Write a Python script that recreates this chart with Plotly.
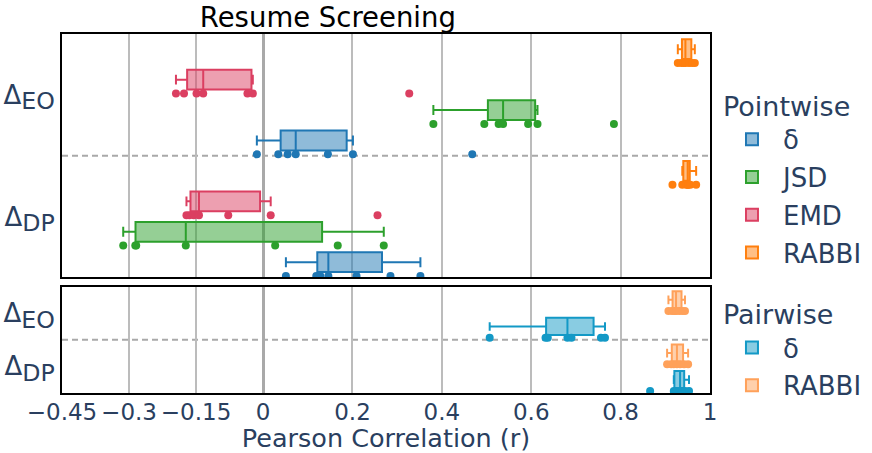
import plotly.graph_objects as go

# ---------------- data ----------------
categories = ["EO", "DP"]
category_labels = [
    "Δ<sub><span style='font-size:130%'>EO</span></sub>",
    "Δ<sub><span style='font-size:130%'>DP</span></sub>",
]
x_tick_values = [-0.45, -0.3, -0.15, 0, 0.2, 0.4, 0.6, 0.8, 1]

# Pointwise metrics (7 values per fairness measure)
pw_delta_eo = [-0.014, 0.034, 0.055, 0.073, 0.145, 0.201, 0.468]
pw_delta_dp = [0.051, 0.119, 0.128, 0.146, 0.209, 0.285, 0.352]
pw_jsd_eo = [0.381, 0.495, 0.527, 0.537, 0.593, 0.614, 0.785]
pw_jsd_dp = [-0.313, -0.286, -0.284, -0.173, 0.027, 0.167, 0.270]
pw_emd_eo = [-0.195, -0.177, -0.149, -0.134, -0.035, -0.023, 0.327]
pw_emd_dp = [-0.1715, -0.165, -0.155, -0.1435, -0.078, 0.017, 0.256]
pw_rabbi_eo = [0.928, 0.936, 0.941, 0.945, 0.953, 0.960, 0.966]
pw_rabbi_dp = [0.916, 0.938, 0.947, 0.950, 0.951, 0.956, 0.969]

# Pairwise metrics
pr_delta_eo = [0.507, 0.632, 0.637, 0.681, 0.690, 0.756, 0.765]
pr_delta_dp = [0.866, 0.919, 0.924, 0.933, 0.937, 0.944, 0.953]
pr_rabbi_eo = [0.907, 0.915, 0.920, 0.924, 0.931, 0.938, 0.944]
pr_rabbi_dp = [0.904, 0.913, 0.919, 0.926, 0.933, 0.942, 0.951]

pointwise_names = ["δ", "JSD", "EMD", "RABBI"]
pointwise_eo = [pw_delta_eo, pw_jsd_eo, pw_emd_eo, pw_rabbi_eo]
pointwise_dp = [pw_delta_dp, pw_jsd_dp, pw_emd_dp, pw_rabbi_dp]
pointwise_colors = ["#1f77b4", "#2ca02c", "#db3f61", "#ff7f0e"]

pairwise_names = ["δ", "RABBI"]
pairwise_eo = [pr_delta_eo, pr_rabbi_eo]
pairwise_dp = [pr_delta_dp, pr_rabbi_dp]
pairwise_colors = ["#1399c6", "#ffa15a"]

FONT = "Verdana, DejaVu Sans, sans-serif"
TXT = "#2a3f5f"


def rgba(hex_color, a):
    h = hex_color.lstrip("#")
    r, g, b = int(h[0:2], 16), int(h[2:4], 16), int(h[4:6], 16)
    return f"rgba({r},{g},{b},{a})"


def make_box(name, eo, dp, color, xaxis, yaxis, legend, pointpos, align, offset):
    return go.Box(
        x=eo + dp,
        y=[categories[0]] * len(eo) + [categories[1]] * len(dp),
        name=name,
        orientation="h",
        boxpoints="all",
        jitter=0,
        pointpos=pointpos,
        marker=dict(color=color, size=8),
        line=dict(color=color, width=2),
        fillcolor=rgba(color, 0.5),
        xaxis=xaxis,
        yaxis=yaxis,
        legend=legend,
        legendgroup=align + offset,
        alignmentgroup=align,
        offsetgroup=offset,
    )


fig = go.Figure()
for i, (n, eo, dp, c) in enumerate(zip(pointwise_names, pointwise_eo, pointwise_dp, pointwise_colors)):
    fig.add_trace(make_box(n, eo, dp, c, "x2", "y", "legend", -1.4, "pw", str(i)))
for i, (n, eo, dp, c) in enumerate(zip(pairwise_names, pairwise_eo, pairwise_dp, pairwise_colors)):
    fig.add_trace(make_box(n, eo, dp, c, "x", "y2", "legend2", -1.3, "pr", str(i)))

grid = dict(
    range=[-0.45, 1],
    tickvals=x_tick_values,
    showgrid=True,
    gridcolor="#bcbcbc",
    gridwidth=2,
    zeroline=True,
    zerolinecolor="#a9a9a9",
    zerolinewidth=3,
    showline=True,
    mirror=True,
    linecolor="black",
    linewidth=2,
    ticks="",
)

yax = dict(
    type="category",
    categoryorder="array",
    categoryarray=["DP", "EO"],
    range=[-0.5, 1.5],
    tickvals=categories,
    ticktext=category_labels,
    tickfont=dict(size=26),
    showgrid=False,
    zeroline=False,
    showline=True,
    mirror=True,
    linecolor="black",
    linewidth=2,
    ticks="",
    automargin=False,
)

legend_common = dict(
    font=dict(size=26),
    xref="container",
    x=0.8268,
    xanchor="left",
    yanchor="top",
    bgcolor="rgba(0,0,0,0)",
    tracegroupgap=1,
    itemwidth=52,
)

fig.update_layout(
    width=872,
    height=453,
    margin=dict(l=62, r=162, t=34, b=60),
    paper_bgcolor="white",
    plot_bgcolor="white",
    font=dict(family=FONT, color=TXT, size=22),
    boxmode="group",
    boxgap=0,
    boxgroupgap=0.35,
    title=dict(
        text="Resume Screening",
        x=0.376,
        xanchor="center",
        y=0.962,
        yanchor="middle",
        font=dict(size=27.5, color="black", family=FONT),
    ),
    xaxis=dict(
        **grid,
        domain=[0, 1],
        anchor="y2",
        tickfont=dict(size=23),
        ticklabelstandoff=-3,
        automargin=False,
        title=dict(text="Pearson Correlation (r)", font=dict(size=25.5)),
    ),
    xaxis2=dict(**grid, domain=[0, 1], anchor="y", matches="x", showticklabels=False,
                automargin=False),
    yaxis=dict(**yax, domain=[0.322, 1], anchor="x2"),
    yaxis2=dict(**yax, domain=[0, 0.2965], anchor="x"),
    legend=dict(title=dict(text="Pointwise", font=dict(size=27)), y=0.87, **legend_common),
    legend2=dict(title=dict(text="Pairwise", font=dict(size=27)), y=0.29, **legend_common),
    shapes=[
        dict(type="line", xref="x2 domain", x0=0, x1=1, yref="y", y0=0.5, y1=0.5,
             line=dict(color="#a9a9a9", width=2, dash="6px,4px"), layer="below"),
        dict(type="line", xref="x domain", x0=0, x1=1, yref="y2", y0=0.5, y1=0.5,
             line=dict(color="#a9a9a9", width=2, dash="6px,4px"), layer="below"),
    ],
)

fig.write_html(
    "out.html",
    config={"displayModeBar": False},
    post_script="document.body.style.margin='0';",
)
